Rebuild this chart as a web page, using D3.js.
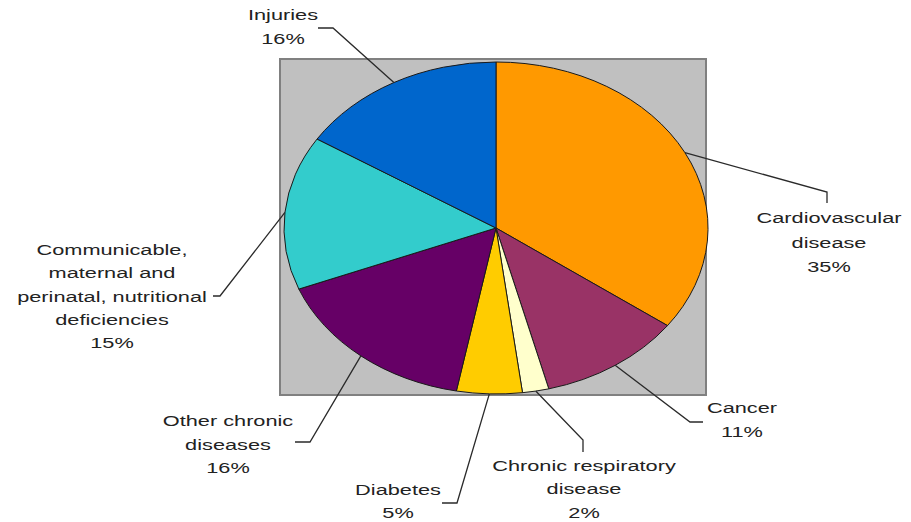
<!DOCTYPE html>
<html>
<head>
<meta charset="utf-8">
<script src="https://cdn.jsdelivr.net/npm/d3@7"></script>
<style>
  html, body { margin: 0; padding: 0; background: #fff; }
  svg { display: block; }
  text { font-family: "Liberation Sans", Arial, sans-serif; font-size: 14.5px; fill: #222; }
</style>
</head>
<body>
<svg id="chart" width="911" height="522"></svg>
<script>
// Share of deaths by cause, clockwise from 12 o'clock
const categories = [
  "Cardiovascular disease",
  "Cancer",
  "Chronic respiratory disease",
  "Diabetes",
  "Other chronic diseases",
  "Communicable, maternal and perinatal, nutritional deficiencies",
  "Injuries"
];
const values = [35, 11, 2, 5, 16, 15, 16];
const colors = ["#FF9900", "#993366", "#FFFFCC", "#FFCC00", "#660066", "#33CCCC", "#0066CC"];

// How each label is broken into lines
const labelLines = [
  ["Cardiovascular", "disease"],
  ["Cancer"],
  ["Chronic respiratory", "disease"],
  ["Diabetes"],
  ["Other chronic", "diseases"],
  ["Communicable,", "maternal and", "perinatal, nutritional", "deficiencies"],
  ["Injuries"]
];

// Label placement: leader elbow, leader end, text centre x and first-line y
const labelLayout = [
  { elbow: [827, 192], end: [827, 203], x: 829, y: 218, step: 24.5 },
  { elbow: [690, 422], end: [703, 422], x: 742, y: 408, step: 24 },
  { elbow: [583, 440], end: [583, 452], x: 584, y: 466, step: 23.3 },
  { elbow: [457, 503], end: [442, 503], x: 398, y: 490, step: 22.5 },
  { elbow: [310, 442], end: [295, 442], x: 228, y: 421, step: 23.5 },
  { elbow: [220, 296], end: [213, 296], x: 112, y: 250, step: 23.3 },
  { elbow: [333, 28],  end: [318, 28],  x: 283, y: 15,  step: 24 }
];

const svg = d3.select("#chart");

// Plot area frame
const plot = { x0: 280, y0: 59, x1: 706, y1: 395 };
svg.append("rect")
  .attr("x", plot.x0).attr("y", plot.y0)
  .attr("width", plot.x1 - plot.x0).attr("height", plot.y1 - plot.y0)
  .attr("fill", "#C0C0C0").attr("stroke", "#808080").attr("stroke-width", 2);

// Pie, drawn on a unit circle and stretched into an ellipse
const cx = 496, cy = 228, rx = 212, ry = 166;
const pie = d3.pie().sort(null).value(d => d)(values);
const arc = d3.arc().innerRadius(0).outerRadius(1);

svg.append("g")
  .attr("transform", `translate(${cx},${cy}) scale(${rx},${ry})`)
  .selectAll("path")
  .data(pie)
  .join("path")
  .attr("d", arc)
  .attr("fill", (d, i) => colors[i])
  .attr("stroke", "#1a1a1a")
  .attr("stroke-width", 1)
  .attr("vector-effect", "non-scaling-stroke");

// Leader lines from each slice's mid-angle on the rim
const leaders = svg.append("g");
pie.forEach((d, i) => {
  const a = (d.startAngle + d.endAngle) / 2;
  const p0 = [cx + rx * Math.sin(a), cy - ry * Math.cos(a)];
  const L = labelLayout[i];
  leaders.append("path")
    .attr("d", d3.line()([p0, L.elbow, L.end]))
    .attr("fill", "none")
    .attr("stroke", "#2a2a2a")
    .attr("stroke-width", 1.3);
});

// Labels: name lines followed by the percentage
const labels = svg.append("g");
pie.forEach((d, i) => {
  const L = labelLayout[i];
  const lines = labelLines[i].concat([d3.format("d")(values[i]) + "%"]);
  const g = labels.append("g")
    .attr("transform", `translate(${L.x},${L.y}) scale(1.5,1)`);
  g.selectAll("text")
    .data(lines)
    .join("text")
    .attr("x", 0)
    .attr("y", (t, j) => j * L.step)
    .attr("dy", "0.35em")
    .attr("text-anchor", "middle")
    .text(t => t);
});
</script>
</body>
</html>
